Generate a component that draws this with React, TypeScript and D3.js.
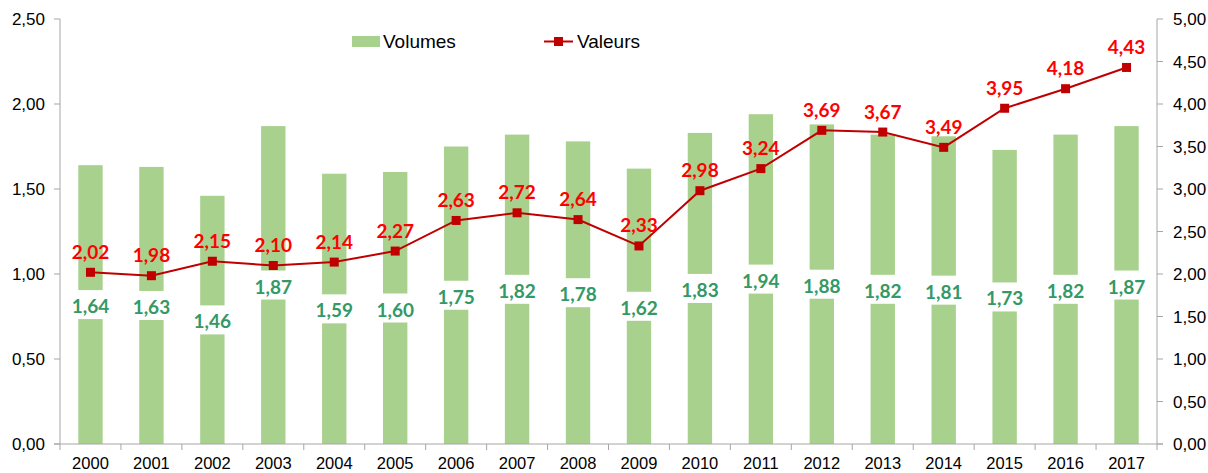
import * as d3 from 'd3';
import { useEffect, useRef } from 'react';

const years = ['2000', '2001', '2002', '2003', '2004', '2005', '2006', '2007', '2008', '2009', '2010', '2011', '2012', '2013', '2014', '2015', '2016', '2017'];
const volumes = [1.64, 1.63, 1.46, 1.87, 1.59, 1.6, 1.75, 1.82, 1.78, 1.62, 1.83, 1.94, 1.88, 1.82, 1.81, 1.73, 1.82, 1.87];
const valeurs = [2.02, 1.98, 2.15, 2.1, 2.14, 2.27, 2.63, 2.72, 2.64, 2.33, 2.98, 3.24, 3.69, 3.67, 3.49, 3.95, 4.18, 4.43];
const leftTicks = [0, 0.5, 1, 1.5, 2, 2.5];
const rightTicks = [0, 0.5, 1, 1.5, 2, 2.5, 3, 3.5, 4, 4.5, 5];

const fr = (v: number) => v.toFixed(2).replace('.', ',');

export default function App() {
  const ref = useRef<SVGSVGElement>(null);

  useEffect(() => {
    const width = 1208;
    const height = 473;
    const left = 60;
    const right = 1157;
    const top = 19;
    const bottom = 444;
    const axisColor = '#a6a6a6';
    const axisFont = '"Liberation Sans", Arial, sans-serif';
    const labelFont = 'Lato, "Open Sans", sans-serif';

    const svg = d3.select(ref.current);
    svg.selectAll('*').remove();
    svg.attr('width', width).attr('height', height);

    const x = d3.scaleBand().domain(years).range([left, right]).paddingInner(0.6).paddingOuter(0.3);
    const yL = d3.scaleLinear().domain([0, 2.5]).range([bottom, top]);
    const yR = d3.scaleLinear().domain([0, 5]).range([bottom, top]);

    /* ---------- BARS ---------- */
    svg
      .append('g')
      .selectAll('rect')
      .data(volumes)
      .enter()
      .append('rect')
      .attr('x', (_, i) => x(years[i])!)
      .attr('width', x.bandwidth())
      .attr('y', d => yL(d))
      .attr('height', d => bottom - yL(d))
      .attr('fill', '#a9d18e');

    /* ---------- AXES ---------- */
    const ax = svg.append('g');
    ax.append('line').attr('x1', left).attr('x2', left).attr('y1', top).attr('y2', bottom).attr('stroke', axisColor);
    ax.append('line').attr('x1', right).attr('x2', right).attr('y1', top).attr('y2', bottom).attr('stroke', axisColor);
    ax.append('line').attr('x1', left - 6).attr('x2', right + 6).attr('y1', bottom).attr('y2', bottom).attr('stroke', axisColor);

    ax.selectAll('.lt')
      .data(leftTicks)
      .enter()
      .append('line')
      .attr('x1', left - 6)
      .attr('x2', left)
      .attr('y1', d => yL(d))
      .attr('y2', d => yL(d))
      .attr('stroke', axisColor);
    ax.selectAll('.ll')
      .data(leftTicks)
      .enter()
      .append('text')
      .attr('x', 45)
      .attr('y', d => yL(d) + 6)
      .attr('text-anchor', 'end')
      .style('font-family', axisFont)
      .style('font-size', '17px')
      .attr('fill', '#000')
      .text(d => fr(d));

    ax.selectAll('.rt')
      .data(rightTicks)
      .enter()
      .append('line')
      .attr('x1', right)
      .attr('x2', right + 6)
      .attr('y1', d => yR(d))
      .attr('y2', d => yR(d))
      .attr('stroke', axisColor);
    ax.selectAll('.rl')
      .data(rightTicks)
      .enter()
      .append('text')
      .attr('x', 1173)
      .attr('y', d => yR(d) + 6)
      .style('font-family', axisFont)
      .style('font-size', '17px')
      .attr('fill', '#000')
      .text(d => fr(d));

    const step = x.step();
    ax.selectAll('.xt')
      .data(d3.range(years.length + 1))
      .enter()
      .append('line')
      .attr('x1', i => left + i * step)
      .attr('x2', i => left + i * step)
      .attr('y1', bottom)
      .attr('y2', bottom + 6)
      .attr('stroke', axisColor);
    ax.selectAll('.xl')
      .data(years)
      .enter()
      .append('text')
      .attr('x', d => x(d)! + x.bandwidth() / 2)
      .attr('y', 469)
      .attr('text-anchor', 'middle')
      .style('font-family', axisFont)
      .style('font-size', '16.5px')
      .attr('fill', '#000')
      .text(d => d);

    /* ---------- BAR LABELS (white box) ---------- */
    const bl = svg.append('g');
    bl.selectAll('rect')
      .data(volumes)
      .enter()
      .append('rect')
      .attr('x', (_, i) => x(years[i])! - 1)
      .attr('width', x.bandwidth() + 2)
      .attr('y', d => yL(d / 2) - 14.5)
      .attr('height', 29)
      .attr('fill', '#fff');
    bl.selectAll('text')
      .data(volumes)
      .enter()
      .append('text')
      .attr('x', (_, i) => x(years[i])! + x.bandwidth() / 2)
      .attr('y', d => yL(d / 2) + 8.5)
      .attr('text-anchor', 'middle')
      .style('font-family', labelFont)
      .style('font-size', '19px')
      .style('font-weight', 700)
      .attr('fill', '#339966')
      .text(d => fr(d));

    /* ---------- LINE ---------- */
    const cx = (i: number) => x(years[i])! + x.bandwidth() / 2;
    const line = d3
      .line<number>()
      .x((_, i) => cx(i))
      .y(d => yR(d));
    svg
      .append('path')
      .attr('d', line(valeurs))
      .attr('fill', 'none')
      .attr('stroke', '#c00000')
      .attr('stroke-width', 2);
    svg
      .append('g')
      .selectAll('rect')
      .data(valeurs)
      .enter()
      .append('rect')
      .attr('x', (_, i) => cx(i) - 4.5)
      .attr('y', d => yR(d) - 4.5)
      .attr('width', 9)
      .attr('height', 9)
      .attr('fill', '#c00000');
    svg
      .append('g')
      .selectAll('text')
      .data(valeurs)
      .enter()
      .append('text')
      .attr('x', (_, i) => cx(i))
      .attr('y', d => yR(d) - 13.5)
      .attr('text-anchor', 'middle')
      .style('font-family', labelFont)
      .style('font-size', '19px')
      .style('font-weight', 700)
      .attr('fill', '#ff0000')
      .text(d => fr(d));

    /* ---------- LEGEND ---------- */
    const lg = svg.append('g');
    lg.append('rect').attr('x', 352).attr('y', 36).attr('width', 28).attr('height', 11).attr('fill', '#a9d18e');
    lg.append('text')
      .attr('x', 383)
      .attr('y', 48)
      .style('font-family', axisFont)
      .style('font-size', '19px')
      .text('Volumes');
    lg.append('line').attr('x1', 544).attr('x2', 573).attr('y1', 41.5).attr('y2', 41.5).attr('stroke', '#c00000').attr('stroke-width', 2);
    lg.append('rect').attr('x', 554).attr('y', 37).attr('width', 9).attr('height', 9).attr('fill', '#c00000');
    lg.append('text')
      .attr('x', 577)
      .attr('y', 48)
      .style('font-family', axisFont)
      .style('font-size', '19px')
      .text('Valeurs');
  }, []);

  return <svg ref={ref} style={{ position: 'absolute', left: 0, top: 0 }} />;
}
